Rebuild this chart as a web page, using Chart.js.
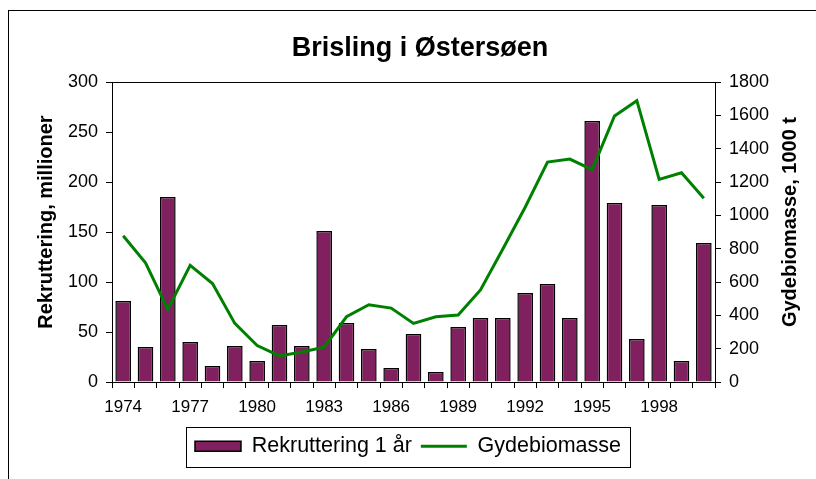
<!DOCTYPE html>
<html>
<head>
<meta charset="utf-8">
<script src="https://cdn.jsdelivr.net/npm/chart.js@4/dist/chart.umd.min.js"></script>
<style>
    html, body { margin: 0; padding: 0; background: #fff; }
    canvas { display: block; }
</style>
</head>
<body>
<canvas id="brisling" width="816" height="479"></canvas>
<script>
const years = ["1974", "1975", "1976", "1977", "1978", "1979", "1980", "1981", "1982",
    "1983", "1984", "1985", "1986", "1987", "1988", "1989", "1990", "1991", "1992",
    "1993", "1994", "1995", "1996", "1997", "1998", "1999", "2000"];
const shownYears = ["1974", "1977", "1980", "1983", "1986", "1989", "1992", "1995", "1998"];
// Rekruttering 1 år, millioner
const recruitment = [81, 35, 185, 40, 16, 36, 21, 57, 36, 151, 59, 33, 14, 48,
    10, 55, 64, 64, 89, 98, 64, 261, 179, 43, 177, 21, 139];
// Gydebiomasse, 1000 t
const biomass = [878, 715, 436, 701, 591, 352, 219, 157, 181, 209, 392, 464, 444, 352,
    392, 402, 553, 798, 1049, 1320, 1338, 1274, 1596, 1688, 1216, 1256, 1103];

const titleText = "Brisling i Østersøen";
const leftTitle = "Rekruttering, millioner";
const rightTitle = "Gydebiomasse, 1000 t";

const fontFamily = "'Liberation Sans', Arial, sans-serif";
Chart.defaults.font.family = fontFamily;
Chart.defaults.color = "#000";

// frame, title, plot border, legend box and the two axis titles
let decorPlugin = {
    id: 'decor',
    beforeDraw(chart) {
        const ctx = chart.ctx;
        ctx.save();
        ctx.fillStyle = "#fff";
        ctx.fillRect(0, 0, chart.width, chart.height);
        ctx.strokeStyle = "#000";
        ctx.lineWidth = 1;
        ctx.strokeRect(8.5, 10.5, chart.width, chart.height);
        ctx.restore();
    },
    afterDraw(chart) {
        const ctx = chart.ctx;
        const a = chart.chartArea;
        ctx.save();
        ctx.strokeStyle = "#000";
        ctx.lineWidth = 1;
        ctx.strokeRect(Math.round(a.left) + 0.5, Math.round(a.top) + 0.5,
            Math.round(a.right - a.left), Math.round(a.bottom - a.top));

        // box round the legend
        const boxes = chart.legend.legendHitBoxes;
        const l = Math.min(...boxes.map(b => b.left));
        const r = Math.max(...boxes.map(b => b.left + b.width));
        const t = Math.min(...boxes.map(b => b.top));
        const bt = Math.max(...boxes.map(b => b.top + b.height));
        ctx.strokeRect(Math.round(l - 9) + 0.5, Math.round(t - 9) + 0.5,
            Math.round(r - l + 18), Math.round(bt - t + 18));

        ctx.fillStyle = "#000";
        ctx.textAlign = "center";

        // chart title
        ctx.font = "bold 27px " + fontFamily;
        ctx.textBaseline = "alphabetic";
        ctx.fillText(titleText, 420, 56);

        // axis titles, both reading upwards
        const mid = (a.top + a.bottom) / 2 - 10;
        ctx.font = "bold 20px " + fontFamily;
        ctx.textBaseline = "middle";
        ctx.translate(46, mid);
        ctx.rotate(-Math.PI / 2);
        ctx.fillText(leftTitle, 0, 0);
        ctx.rotate(Math.PI / 2);
        ctx.translate(790 - 46, 0);
        ctx.rotate(-Math.PI / 2);
        ctx.fillText(rightTitle, 0, 0);
        ctx.restore();
    }
};

let ctx = document.getElementById('brisling').getContext('2d');

let data = {
    labels: years,
    datasets: [
        {
            type: 'bar',
            label: "Rekruttering 1 år",
            data: recruitment,
            backgroundColor: "#80205f",
            borderColor: "#000",
            borderWidth: 1.5,
            barPercentage: 0.7,
            categoryPercentage: 1.0,
            pointStyle: 'rect',
            yAxisID: 'y',
            order: 1
        },
        {
            type: 'line',
            label: "Gydebiomasse",
            data: biomass,
            borderColor: "#008000",
            backgroundColor: "#008000",
            borderWidth: 3,
            pointRadius: 0,
            pointStyle: 'line',
            tension: 0,
            fill: false,
            yAxisID: 'y1',
            order: 0
        }
    ]
};

let options = {
    responsive: false,
    animation: false,
    layout: { padding: { top: 82, left: 0, right: 0, bottom: 12 } },
    plugins: {
        title: { display: false },
        legend: {
            display: true,
            position: 'bottom',
            labels: {
                usePointStyle: true,
                pointStyleWidth: 46,
                boxHeight: 10,
                padding: 9,
                color: "#000",
                font: { size: 21.5 },
                sort: (a, b) => a.datasetIndex - b.datasetIndex
            }
        },
        tooltip: { enabled: false }
    },
    scales: {
        x: {
            offset: true,
            grid: {
                offset: true,
                drawOnChartArea: false,
                color: "#000",
                tickLength: 6
            },
            border: { color: "#000" },
            ticks: {
                autoSkip: false,
                maxRotation: 0,
                padding: 9,
                font: { size: 17 },
                callback: function(value) {
                    const lab = this.getLabelForValue(value);
                    return shownYears.includes(lab) ? lab : '';
                }
            }
        },
        y: {
            position: 'left',
            min: 0,
            max: 300,
            grid: { drawOnChartArea: false, color: "#000", tickLength: 6 },
            border: { color: "#000" },
            ticks: { stepSize: 50, padding: 8, font: { size: 18 }, callback: v => String(v) },
            afterFit: (s) => { s.width = 112; }
        },
        y1: {
            position: 'right',
            min: 0,
            max: 1800,
            grid: { drawOnChartArea: false, color: "#000", tickLength: 6 },
            border: { color: "#000" },
            ticks: { stepSize: 200, padding: 8, font: { size: 18 }, callback: v => String(v) },
            afterFit: (s) => { s.width = 101; }
        }
    }
};

let brislingChart = new Chart(ctx, {
    data: data,
    options: options,
    plugins: [decorPlugin]
});
</script>
</body>
</html>
